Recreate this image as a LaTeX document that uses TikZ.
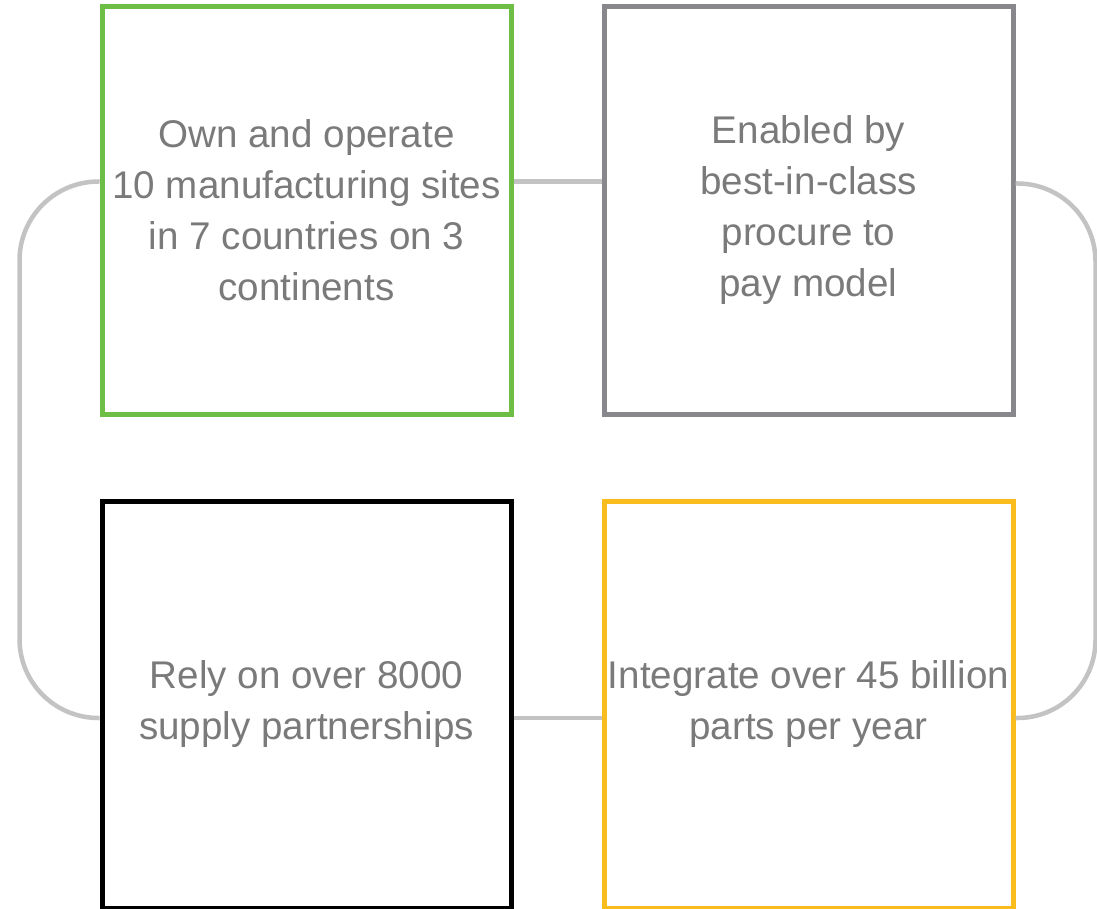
\documentclass[tikz,border=0pt]{standalone}
\usepackage{fontspec}
\setmainfont{Liberation Sans}
\usepackage{xcolor}
\usetikzlibrary{positioning}
\definecolor{sitegreen}{RGB}{110,190,70}
\definecolor{paygray}{RGB}{136,136,140}
\definecolor{partyellow}{RGB}{248,189,28}
\definecolor{textgray}{RGB}{122,122,122}
\definecolor{linkgray}{RGB}{195,195,195}

\begin{document}
\begin{tikzpicture}[
  x=1pt, y=-1pt,
  card/.style={rectangle, draw, line width=5pt, minimum width=409pt,
    minimum height=407pt, align=center, text=textgray,
    font=\fontsize{38.6}{51}\selectfont},
  link/.style={line width=4.5pt, color=linkgray}
]
  \useasboundingbox (0,0) rectangle (1097,909);

  \node[card, draw=sitegreen] (sites) at (306.5,210.5)
    {Own and operate\\10 manufacturing sites\\in 7 countries on 3\\continents};
  \node[card, draw=paygray, right=88pt of sites] (procure)
    {Enabled by\\best-in-class\\procure to\\pay model};
  \node[card, draw=black, below=82pt of sites] (partners)
    {Rely on over 8000\\supply partnerships};
  \node[card, draw=partyellow, below=82pt of procure] (parts)
    {Integrate over 45 billion\\parts per year};

  % loop round the four boxes
  \coordinate (leftbend) at ([xshift=-80pt,yshift=-13.5pt]partners.west);
  \coordinate (rightbend) at ([xshift=80pt,yshift=-13.5pt]parts.east);

  \draw[link] ([yshift=29pt]sites.east) -- ([yshift=29pt]procure.west);
  \draw[link] ([yshift=-13.5pt]partners.east) -- ([yshift=-13.5pt]parts.west);
  \draw[link, rounded corners=79pt] ([yshift=29pt]sites.west) -| (leftbend)
    -- ([yshift=-13.5pt]partners.west);
  \draw[link, rounded corners=78pt] ([yshift=27pt]procure.east) -| (rightbend)
    -- ([yshift=-13.5pt]parts.east);
\end{tikzpicture}
\end{document}
